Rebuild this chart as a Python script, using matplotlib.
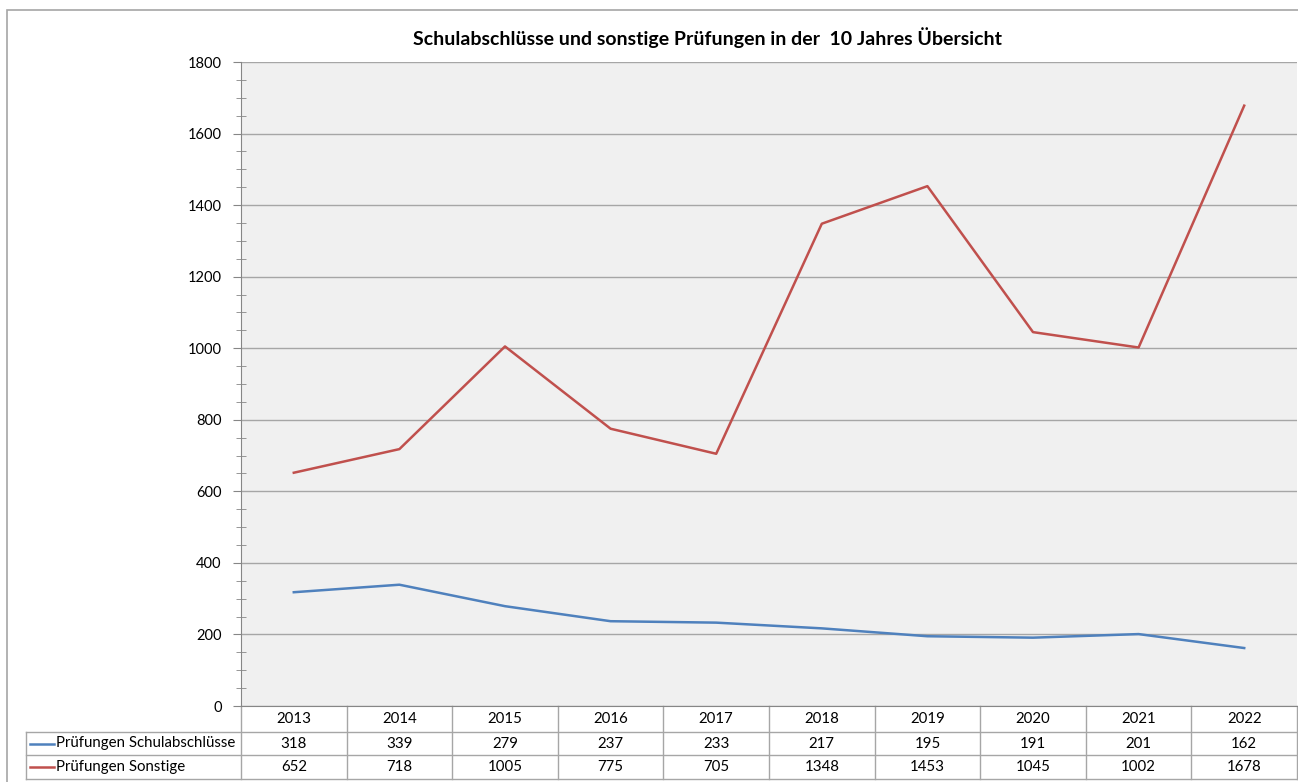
"""Schulabschlüsse und sonstige Prüfungen - 10 Jahres Übersicht."""
import numpy as np
from matplotlib import pyplot as plt
from matplotlib.ticker import MultipleLocator
import matplotlib.transforms as mtransforms

years = ['2013', '2014', '2015', '2016', '2017', '2018', '2019', '2020', '2021', '2022']
schulabschluesse = [318, 339, 279, 237, 233, 217, 195, 191, 201, 162]
sonstige = [652, 718, 1005, 775, 705, 1348, 1453, 1045, 1002, 1678]
series_names = ['Prüfungen Schulabschlüsse', 'Prüfungen Sonstige']

plt.rcParams['font.family'] = ['Lato', 'DejaVu Sans']

W, H = 1298, 782
BLUE = '#4F81BD'
RED = '#C0504D'
GRID = '#A6A6A6'


def create_chart():
    fig = plt.figure(figsize=(W / 100, H / 100), dpi=100)

    # Rahmen des Diagrammbereichs
    fig.add_artist(plt.Rectangle((7 / W, -0.1), 1.2, 1 - 10 / H + 0.1,
                                 transform=fig.transFigure, fill=False,
                                 edgecolor=GRID, linewidth=1.2))

    left, right, top, bottom = 241, 1297, 62, 706
    ax = fig.add_axes([left / W, 1 - bottom / H, (right - left) / W,
                       (bottom - top) / H])
    ax.set_facecolor('#F0F0F0')

    x = np.arange(len(years))
    ax.plot(x, schulabschluesse, color=BLUE, linewidth=1.8)
    ax.plot(x, sonstige, color=RED, linewidth=1.8)

    ax.set_xlim(-0.5, len(years) - 0.5)
    ax.set_ylim(0, 1800)
    ax.yaxis.set_major_locator(MultipleLocator(200))
    ax.yaxis.set_minor_locator(MultipleLocator(50))
    ax.yaxis.grid(True, color=GRID, linewidth=1)
    ax.set_axisbelow(True)
    ax.set_xticks([])
    ax.tick_params(axis='y', which='major', direction='out', length=6,
                   color='#868686', labelsize=10.5, pad=8)
    ax.tick_params(axis='y', which='minor', direction='inout', length=7,
                   color='#868686')
    for s in ['top', 'right']:
        ax.spines[s].set_visible(False)
    ax.spines['left'].set_color('#868686')
    ax.spines['bottom'].set_color('#868686')

    fig.text(707 / W, 1 - 38 / H,
             'Schulabschlüsse und sonstige Prüfungen in der  10 Jahres Übersicht',
             ha='center', va='center', fontsize=14, fontweight='bold')

    # Datentabelle unter der Achse
    trans = mtransforms.blended_transform_factory(ax.transData, ax.transAxes)
    ph = bottom - top
    rows_y = [0, -26 / ph, -49 / ph, -73 / ph]
    label_left = -0.5 - (left - 26) / ((right - left) / len(years))
    line_kw = dict(color=GRID, linewidth=1, transform=trans, clip_on=False)

    for i in range(len(years) + 1):
        ax.plot([i - 0.5, i - 0.5], [rows_y[0], rows_y[3]], **line_kw)
    ax.plot([label_left, label_left], [rows_y[1], rows_y[3]], **line_kw)
    for y in rows_y[1:]:
        ax.plot([label_left, len(years) - 0.5], [y, y], **line_kw)

    def mid(r):
        return (rows_y[r] + rows_y[r + 1]) / 2

    fs = 10.8
    for i, yr in enumerate(years):
        ax.text(i, mid(0), yr, transform=trans, ha='center', va='center',
                fontsize=fs)
        ax.text(i, mid(1), str(schulabschluesse[i]), transform=trans,
                ha='center', va='center', fontsize=fs)
        ax.text(i, mid(2), str(sonstige[i]), transform=trans,
                ha='center', va='center', fontsize=fs)

    unit = (right - left) / len(years)
    key0 = label_left + 4 / unit
    key1 = label_left + 28 / unit
    for r, (name, col) in enumerate(zip(series_names, [BLUE, RED]), start=1):
        ax.plot([key0, key1], [mid(r), mid(r)], color=col, linewidth=1.8,
                transform=trans, clip_on=False)
        ax.text(key1 + 2 / unit, mid(r), name, transform=trans, ha='left',
                va='center', fontsize=fs)

    fig.savefig('out.png', dpi=100)


if __name__ == '__main__':
    create_chart()
